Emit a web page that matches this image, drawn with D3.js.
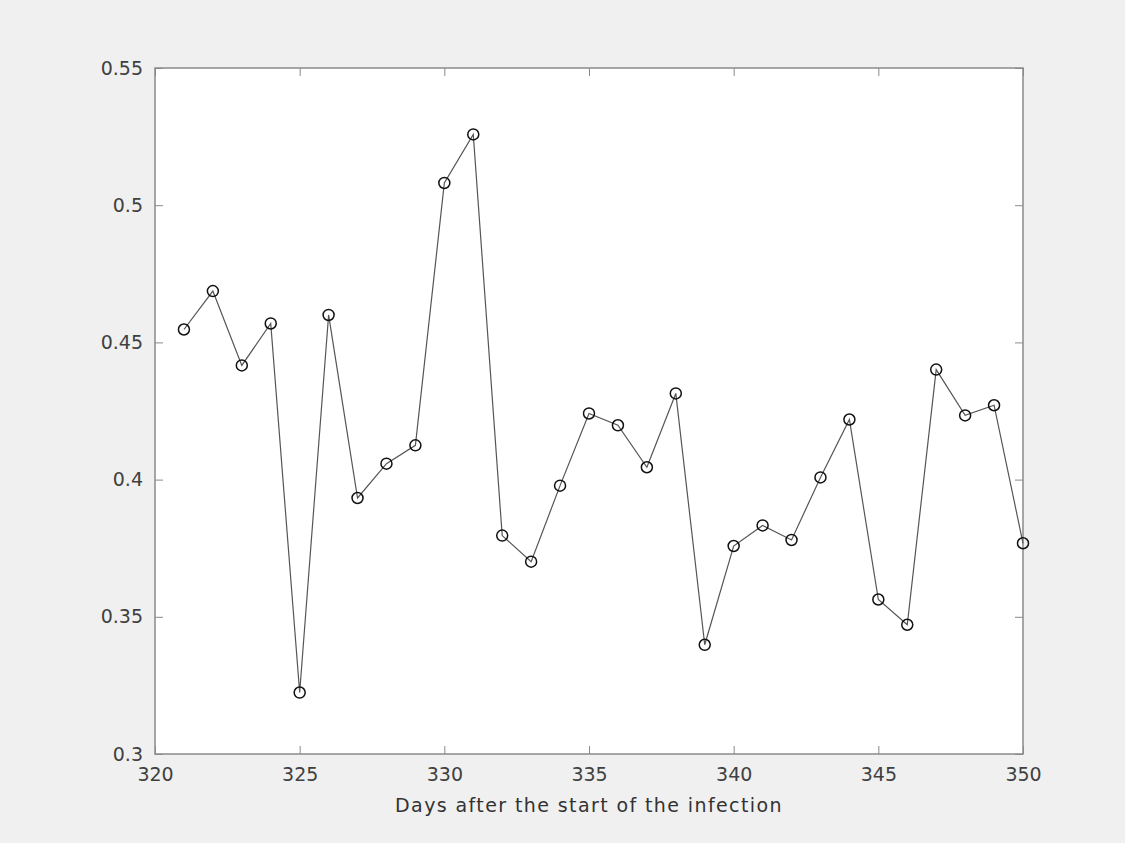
<!DOCTYPE html>
<html>
<head>
<meta charset="utf-8">
<script src="https://cdn.jsdelivr.net/npm/d3@7/dist/d3.min.js"></script>
<style>
  html, body { margin: 0; padding: 0; background: #f0f0f0; }
  svg { display: block; }
  .tick text { font-family: "DejaVu Sans", sans-serif; font-size: 19px; fill: #404040; }
</style>
</head>
<body>
<svg id="chart" width="1125" height="843"></svg>
<script>
// days after infection start
const days = [321, 322, 323, 324, 325, 326, 327, 328, 329, 330,
              331, 332, 333, 334, 335, 336, 337, 338, 339, 340,
              341, 342, 343, 344, 345, 346, 347, 348, 349, 350];
const values = [0.4547, 0.4687, 0.4416, 0.4569, 0.3224, 0.4600, 0.3933, 0.4058, 0.4125, 0.5081,
                0.5258, 0.3796, 0.3701, 0.3978, 0.4241, 0.4198, 0.4045, 0.4314, 0.3398, 0.3758,
                0.3833, 0.3780, 0.4008, 0.4219, 0.3563, 0.3471, 0.4401, 0.4234, 0.4271, 0.3768];
const xTicks = [320, 325, 330, 335, 340, 345, 350];
const yTicks = [0.3, 0.35, 0.4, 0.45, 0.5, 0.55];
const xLabel = 'Days after the start of the infection';

const margin = { top: 68, right: 102, bottom: 89, left: 155 };
const width = 1125 - margin.left - margin.right;
const height = 843 - margin.top - margin.bottom;

const svg = d3.select('#chart');
const g = svg.append('g').attr('transform', `translate(${margin.left},${margin.top})`);

const x = d3.scaleLinear().domain([320, 350]).range([0, width]);
const y = d3.scaleLinear().domain([0.3, 0.55]).range([height, 0]);

g.append('rect')
  .attr('width', width)
  .attr('height', height)
  .attr('fill', '#fff');

const tickLen = 8;
const axisColor = '#8a8a8a';

const styleAxis = sel => {
  sel.select('.domain').remove();
  sel.selectAll('.tick line').attr('stroke', axisColor).attr('stroke-width', 1);
};

// bottom + top
g.append('g')
  .attr('transform', `translate(0,${height})`)
  .call(d3.axisBottom(x).tickValues(xTicks).tickSize(-tickLen).tickPadding(14).tickFormat(d3.format('d')))
  .call(styleAxis);
g.append('g')
  .call(d3.axisTop(x).tickValues(xTicks).tickSize(-tickLen).tickFormat(''))
  .call(styleAxis);

// left + right
g.append('g')
  .call(d3.axisLeft(y).tickValues(yTicks).tickSize(-tickLen).tickPadding(12).tickFormat(d => d3.format('')(+d.toFixed(2))))
  .call(styleAxis);
g.append('g')
  .attr('transform', `translate(${width},0)`)
  .call(d3.axisRight(y).tickValues(yTicks).tickSize(-tickLen).tickFormat(''))
  .call(styleAxis);

// box
g.append('rect')
  .attr('width', width)
  .attr('height', height)
  .attr('fill', 'none')
  .attr('stroke', axisColor)
  .attr('stroke-width', 1.5);

const pts = days.map((d, i) => ({ d, v: values[i] }));

g.append('path')
  .datum(pts)
  .attr('fill', 'none')
  .attr('stroke', '#555')
  .attr('stroke-width', 1.2)
  .attr('d', d3.line().x(p => x(p.d)).y(p => y(p.v)));

g.selectAll('circle.marker')
  .data(pts)
  .enter()
  .append('circle')
  .attr('class', 'marker')
  .attr('cx', p => x(p.d))
  .attr('cy', p => y(p.v))
  .attr('r', 5.5)
  .attr('fill', 'none')
  .attr('stroke', '#111')
  .attr('stroke-width', 1.5);

g.append('text')
  .attr('x', width / 2)
  .attr('y', height + 58)
  .attr('text-anchor', 'middle')
  .style('font-family', '"DejaVu Sans", sans-serif')
  .style('font-size', '19px')
  .style('letter-spacing', '1.4px')
  .style('fill', '#333')
  .text(xLabel);
</script>
</body>
</html>
